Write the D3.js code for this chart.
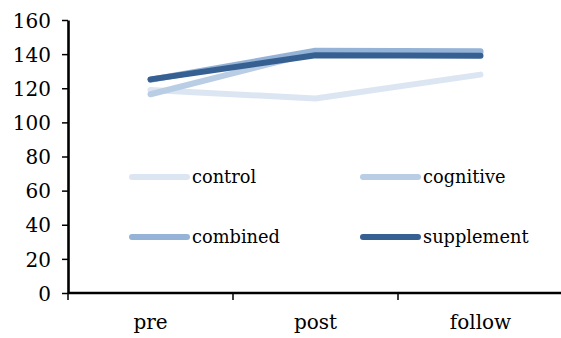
<!DOCTYPE html>
<html><head><meta charset="utf-8">
<script src="https://cdn.jsdelivr.net/npm/d3@7"></script>
<style>
html,body{margin:0;padding:0;background:#fff;}
svg{display:block;}
text{font-family:"DejaVu Serif",serif;fill:#000;}
</style></head>
<body>
<script>
const categories = ["pre","post","follow"];
const seriesNames = ["control","cognitive","combined","supplement"];
const control    = [119, 114, 128];
const cognitive  = [116.5, 141, 141];
const combined   = [125, 142, 141.7];
const supplement = [125.2, 139.3, 139];
const yTicks = [0,20,40,60,80,100,120,140,160];
const colors = ["#dce6f2","#b9cde5","#95b3d7","#376092"];

const W=561,H=338;
const svg=d3.select("body").append("svg").attr("width",W).attr("height",H);
const x=d3.scaleBand().domain(categories).range([68,563]);
const y=d3.scaleLinear().domain([0,160]).range([293,20]);
const axisFs="20px", legFs="17.8px";

// y axis
const ya=svg.append("g").attr("transform","translate(68,0)")
  .call(d3.axisLeft(y).tickValues(yTicks).tickSize(6).tickPadding(11).tickSizeOuter(0));
ya.select(".domain").attr("stroke","#000").attr("stroke-width",2.6);
ya.selectAll(".tick line").attr("stroke","#000").attr("stroke-width",1.5);
ya.selectAll(".tick text").style("font-size",axisFs).style("font-family","DejaVu Serif").attr("fill","#000").attr("dy","0.36em");

// x axis
const xa=svg.append("g");
xa.append("line").attr("x1",x.range()[0]).attr("x2",x.range()[1]).attr("y1",y(0)).attr("y2",y(0))
  .attr("stroke","#000").attr("stroke-width",2.6);
xa.selectAll("line.tk").data(categories).join("line").attr("class","tk")
  .attr("x1",d=>x(d)).attr("x2",d=>x(d)).attr("y1",y(0)).attr("y2",y(0)+7)
  .attr("stroke","#000").attr("stroke-width",1.5);
xa.selectAll("text").data(categories).join("text")
  .attr("x",d=>x(d)+x.bandwidth()/2).attr("y",y(0)+36).attr("text-anchor","middle")
  .style("font-size",axisFs).text(d=>d);

// lines
const data=[control,cognitive,combined,supplement];
const line=d3.line().x((d,i)=>x(categories[i])+x.bandwidth()/2).y(d=>y(d));
svg.append("g").selectAll("path").data(data).join("path")
  .attr("d",line).attr("fill","none").attr("stroke",(d,i)=>colors[i])
  .attr("stroke-width",6).attr("stroke-linecap","round").attr("stroke-linejoin","round");

// legend
const legPos=[[132,177],[363,177],[132,237],[363,237]];
const lg=svg.append("g").selectAll("g").data(seriesNames).join("g")
  .attr("transform",(d,i)=>`translate(${legPos[i][0]},${legPos[i][1]})`);
lg.append("line").attr("x1",0).attr("x2",55).attr("y1",0).attr("y2",0)
  .attr("stroke",(d,i)=>colors[i]).attr("stroke-width",6).attr("stroke-linecap","round");
lg.append("text").attr("x",60).attr("y",6).style("font-size",legFs).text(d=>d);
</script>
</body></html>
